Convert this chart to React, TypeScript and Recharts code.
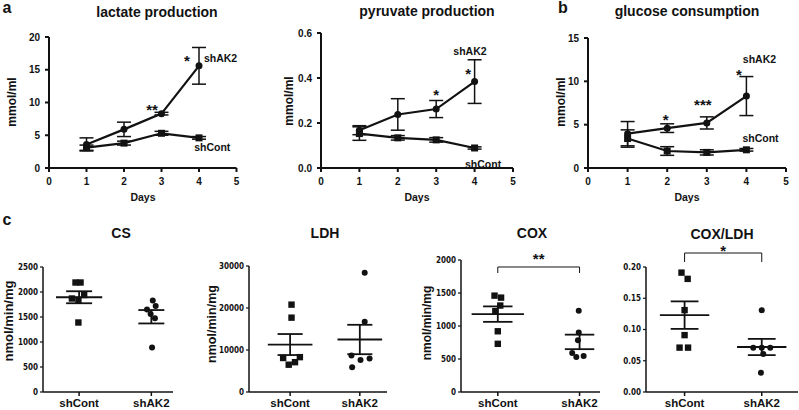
import React from 'react';
import {
  LineChart,
  Line,
  XAxis,
  YAxis,
  ErrorBar,
  ReferenceDot,
  ReferenceLine,
  ScatterChart,
  Scatter,
} from 'recharts';

const INK = '#121212';
const FONT = "'Liberation Sans', Arial, sans-serif";
const NARROW = "'Liberation Sans Narrow', 'DejaVu Sans Condensed', 'Liberation Sans', sans-serif";

// ---- panel a / b: time courses ----
const days = [1, 2, 3, 4];
const dayTicks = [0, 1, 2, 3, 4, 5];

const lactateAK2 = [3.6, 5.9, 8.3, 15.6];
const lactateAK2Err = [1.0, 1.1, 0.2, 2.8];
const lactateCont = [3.1, 3.8, 5.3, 4.6];
const lactateContErr = [0.4, 0.3, 0.3, 0.2];
const lactateTicks = [0, 5, 10, 15, 20];

const pyruvateAK2 = [0.168, 0.238, 0.262, 0.384];
const pyruvateAK2Err = [0.02, 0.07, 0.038, 0.097];
const pyruvateCont = [0.153, 0.134, 0.125, 0.089];
const pyruvateContErr = [0.03, 0.01, 0.01, 0.005];
const pyruvateTicks = [0, 0.2, 0.4, 0.6];

const glucoseAK2 = [3.96, 4.6, 5.2, 8.3];
const glucoseAK2Err = [1.4, 0.5, 0.7, 2.25];
const glucoseCont = [3.4, 1.96, 1.8, 2.1];
const glucoseContErr = [1.0, 0.5, 0.3, 0.15];
const glucoseTicks = [0, 5, 10, 15];

type Note = { x: number; y: number; text: string; anchor?: 'start' | 'middle' };

const lactateNotes: Note[] = [
  { x: 2.75, y: 9.5, text: '**' },
  { x: 3.68, y: 17.0, text: '*' },
  { x: 4.13, y: 16.7, text: 'shAK2', anchor: 'start' },
  { x: 3.87, y: 3.2, text: 'shCont', anchor: 'start' },
];
const pyruvateNotes: Note[] = [
  { x: 3.0, y: 0.344, text: '*' },
  { x: 3.83, y: 0.436, text: '*' },
  { x: 3.88, y: 0.517, text: 'shAK2' },
  { x: 3.75, y: 0.018, text: 'shCont', anchor: 'start' },
];
const glucoseNotes: Note[] = [
  { x: 1.96, y: 6.0, text: '*' },
  { x: 2.9, y: 7.7, text: '***' },
  { x: 3.81, y: 11.2, text: '*' },
  { x: 3.91, y: 12.5, text: 'shAK2', anchor: 'start' },
  { x: 3.9, y: 3.45, text: 'shCont', anchor: 'start' },
];

// ---- panel c: enzyme activities ----
const groups = ['shCont', 'shAK2'];

const csCont = [2190, 2190, 1870, 1840, 1940, 1390];
const csContJitter = [-0.05, 0.02, -0.1, -0.01, 0.07, -0.01];
const csAK2 = [1830, 1720, 1650, 1560, 1475, 890];
const csAK2Jitter = [0.02, 0.06, -0.06, -0.01, 0.05, 0.01];
const csMean = [1895, 1505];
const csSem = [120, 134];
const csTicks = [0, 500, 1000, 1500, 2000, 2500];

const ldhCont = [20800, 17700, 8100, 7100, 6500, 8300];
const ldhContJitter = [0.02, 0.02, -0.1, 0.07, -0.02, 0.14];
const ldhAK2 = [28400, 16700, 8700, 7600, 8000, 5900];
const ldhAK2Jitter = [0.07, 0.07, -0.12, 0.01, 0.14, -0.11];
const ldhMean = [11300, 12500];
const ldhSem = [2500, 3500];
const ldhTicks = [0, 10000, 20000, 30000];

const coxCont = [1460, 1430, 1310, 1225, 920, 730];
const coxContJitter = [-0.04, 0.04, 0.03, -0.03, 0, 0];
const coxAK2 = [1230, 900, 785, 590, 530, 545];
const coxAK2Jitter = [-0.01, -0.01, -0.02, -0.09, -0.04, 0.05];
const coxMean = [1180, 759];
const coxSem = [117, 110];
const coxTicks = [0, 500, 1000, 1500, 2000];

const ratioCont = [0.191, 0.181, 0.131, 0.091, 0.071, 0.071];
const ratioContJitter = [-0.04, 0.04, 0, 0, -0.065, 0.045];
const ratioAK2 = [0.131, 0.071, 0.071, 0.071, 0.061, 0.031];
const ratioAK2Jitter = [0, -0.11, 0, 0.11, 0.02, -0.01];
const ratioMean = [0.123, 0.072];
const ratioSem = [0.022, 0.013];
const ratioTicks = [0, 0.05, 0.1, 0.15, 0.2];

type Rect = { x1: number; y1: number; x2: number; y2: number };

function frame(plot: Rect, outer: Rect, axisH: number) {
  return {
    style: { position: 'absolute' as const, left: outer.x1, top: outer.y1 },
    width: outer.x2 - outer.x1,
    height: outer.y2 - outer.y1,
    margin: {
      top: plot.y1 - outer.y1,
      right: outer.x2 - plot.x2,
      bottom: outer.y2 - plot.y2 - axisH,
      left: 0,
    },
    yw: plot.x1 - outer.x1,
  };
}

const noteLabel = (n: Note) => (props: any) => {
  const vb = props.viewBox;
  const star = n.text.startsWith('*');
  return (
    <text
      x={vb.x + vb.width / 2}
      y={vb.y + vb.height / 2}
      dy={star ? '0.6em' : '0.35em'}
      textAnchor={n.anchor || 'middle'}
      fontSize={star ? 15 : 10.5}
      fontWeight="bold"
      fontFamily={FONT}
      fill={INK}
    >
      {n.text}
    </text>
  );
};

const squareDot = (size: number) => (p: any) => (
  <rect key={p.key} x={p.cx - size / 2} y={p.cy - size / 2} width={size} height={size} fill={INK} />
);
const roundDot = (r: number) => (p: any) => <circle key={p.key} cx={p.cx} cy={p.cy} r={r} fill={INK} />;

interface TimePanelProps {
  outer: Rect;
  plot: Rect;
  ak2: number[];
  ak2Err: number[];
  cont: number[];
  contErr: number[];
  ticks: number[];
  digits: number;
  notes: Note[];
}

function TimePanel({ outer, plot, ak2, ak2Err, cont, contErr, ticks, digits, notes }: TimePanelProps) {
  const f = frame(plot, outer, 30);
  const rows = days.map((d, i) => ({ day: d, ak2: ak2[i], ak2Err: ak2Err[i], cont: cont[i], contErr: contErr[i] }));
  const tickStyle = { fontSize: 10, fontWeight: 'bold', fill: INK, fontFamily: FONT };
  return (
    <div style={f.style}>
      <LineChart width={f.width} height={f.height} margin={f.margin} data={rows}>
        <XAxis
          dataKey="day"
          type="number"
          domain={[0, 5]}
          ticks={dayTicks}
          height={30}
          axisLine={{ stroke: INK, strokeWidth: 2 }}
          tickLine={{ stroke: INK, strokeWidth: 2 }}
          tickSize={4}
          tickMargin={6}
          tick={tickStyle}
        />
        <YAxis
          type="number"
          domain={[ticks[0], ticks[ticks.length - 1]]}
          ticks={ticks}
          width={f.yw}
          axisLine={{ stroke: INK, strokeWidth: 2 }}
          tickLine={{ stroke: INK, strokeWidth: 2 }}
          tickSize={4}
          tickMargin={5}
          tick={tickStyle}
          tickFormatter={(v: number) => v.toFixed(digits)}
        />
        <Line
          dataKey="cont"
          stroke={INK}
          strokeWidth={2.2}
          dot={squareDot(7)}
          activeDot={false}
          isAnimationActive={false}
        >
          <ErrorBar dataKey="contErr" width={7} stroke={INK} strokeWidth={1.5} isAnimationActive={false} />
        </Line>
        <Line
          dataKey="ak2"
          stroke={INK}
          strokeWidth={2.2}
          dot={roundDot(3.5)}
          activeDot={false}
          isAnimationActive={false}
        >
          <ErrorBar dataKey="ak2Err" width={7} stroke={INK} strokeWidth={1.5} isAnimationActive={false} />
        </Line>
        {notes.map((n, i) => (
          <ReferenceDot
            key={i}
            x={n.x}
            y={n.y}
            r={1}
            fill="none"
            stroke="none"
            ifOverflow="visible"
            label={noteLabel(n)}
          />
        ))}
      </LineChart>
    </div>
  );
}

interface Bracket {
  y: number;
  drop: number;
  textY: number;
  text: string;
}

interface DotPanelProps {
  outer: Rect;
  plot: Rect;
  domain: [number, number];
  ticks: number[];
  digits: number;
  cont: number[];
  contJitter: number[];
  ak2: number[];
  ak2Jitter: number[];
  mean: number[];
  sem: number[];
  bracket?: Bracket;
}

const MEAN_HALF = 0.32;
const SEM_HALF = 0.18;

function DotPanel(props: DotPanelProps) {
  const { outer, plot, domain, ticks, digits, cont, contJitter, ak2, ak2Jitter, mean, sem, bracket } = props;
  const f = frame(plot, outer, 18);
  const contPts = cont.map((y, i) => ({ x: 1 + contJitter[i], y }));
  const ak2Pts = ak2.map((y, i) => ({ x: 2 + ak2Jitter[i], y }));
  const line = { stroke: INK, strokeWidth: 1.8 };
  return (
    <div style={f.style}>
      <ScatterChart width={f.width} height={f.height} margin={f.margin}>
        <XAxis
          dataKey="x"
          type="number"
          domain={domain}
          ticks={[1, 2]}
          height={18}
          axisLine={{ stroke: INK, strokeWidth: 1.5 }}
          tickLine={{ stroke: INK, strokeWidth: 1.5 }}
          tickSize={4}
          tickMargin={3}
          tick={{ fontSize: 11.5, fontWeight: 'bold', fill: INK, fontFamily: FONT }}
          tickFormatter={(v: number) => groups[v - 1]}
        />
        <YAxis
          dataKey="y"
          type="number"
          domain={[ticks[0], ticks[ticks.length - 1]]}
          ticks={ticks}
          width={f.yw}
          axisLine={{ stroke: INK, strokeWidth: 1.5 }}
          tickLine={{ stroke: INK, strokeWidth: 1.2 }}
          tickSize={3}
          tickMargin={2}
          tick={{ fontSize: 8, fontWeight: 'bold', fill: INK, fontFamily: NARROW }}
          tickFormatter={(v: number) => v.toFixed(digits)}
        />
        <Scatter
          data={contPts}
          isAnimationActive={false}
          shape={(p: any) => <rect x={p.cx - 3.2} y={p.cy - 3.2} width={6.4} height={6.4} fill={INK} />}
        />
        <Scatter
          data={ak2Pts}
          isAnimationActive={false}
          shape={(p: any) => <circle cx={p.cx} cy={p.cy} r={3} fill={INK} />}
        />
        {mean.map((m, i) => {
          const c = i + 1;
          return (
            <React.Fragment key={i}>
              <ReferenceLine segment={[{ x: c - MEAN_HALF, y: m }, { x: c + MEAN_HALF, y: m }]} {...line} />
              <ReferenceLine segment={[{ x: c - SEM_HALF, y: m + sem[i] }, { x: c + SEM_HALF, y: m + sem[i] }]} {...line} />
              <ReferenceLine segment={[{ x: c - SEM_HALF, y: m - sem[i] }, { x: c + SEM_HALF, y: m - sem[i] }]} {...line} />
              <ReferenceLine segment={[{ x: c, y: m - sem[i] }, { x: c, y: m + sem[i] }]} {...line} />
            </React.Fragment>
          );
        })}
        {bracket && (
          <>
            <ReferenceLine
              segment={[{ x: 1, y: bracket.drop }, { x: 1, y: bracket.y }]}
              stroke={INK}
              strokeWidth={1}
              ifOverflow="visible"
            />
            <ReferenceLine
              segment={[{ x: 1, y: bracket.y }, { x: 2, y: bracket.y }]}
              stroke={INK}
              strokeWidth={1}
              ifOverflow="visible"
            />
            <ReferenceLine
              segment={[{ x: 2, y: bracket.y }, { x: 2, y: bracket.drop }]}
              stroke={INK}
              strokeWidth={1}
              ifOverflow="visible"
            />
            <ReferenceDot
              x={1.5}
              y={bracket.textY}
              r={1}
              fill="none"
              stroke="none"
              ifOverflow="visible"
              label={noteLabel({ x: 1.5, y: bracket.textY, text: bracket.text })}
            />
          </>
        )}
      </ScatterChart>
    </div>
  );
}

const Title = ({ x, y, children, size = 14 }: { x: number; y: number; children: React.ReactNode; size?: number }) => (
  <text x={x} y={y} textAnchor="middle" fontSize={size} fontWeight="bold" fontFamily={FONT} fill={INK}>
    {children}
  </text>
);

const VLabel = ({ x, y, children, size = 12 }: { x: number; y: number; children: React.ReactNode; size?: number }) => (
  <text
    x={x}
    y={y}
    transform={`rotate(-90, ${x}, ${y})`}
    textAnchor="middle"
    dominantBaseline="central"
    fontSize={size}
    fontWeight="bold"
    fontFamily={FONT}
    fill={INK}
  >
    {children}
  </text>
);

export default function App() {
  return (
    <div style={{ position: 'fixed', left: 0, top: 0, width: 799, height: 410, background: '#fff', overflow: 'hidden' }}>
      <TimePanel
        outer={{ x1: 0, y1: 0, x2: 262, y2: 210 }}
        plot={{ x1: 49, y1: 37, x2: 236.5, y2: 168 }}
        ak2={lactateAK2}
        ak2Err={lactateAK2Err}
        cont={lactateCont}
        contErr={lactateContErr}
        ticks={lactateTicks}
        digits={0}
        notes={lactateNotes}
      />
      <TimePanel
        outer={{ x1: 266, y1: 0, x2: 535, y2: 210 }}
        plot={{ x1: 321, y1: 33, x2: 513, y2: 168 }}
        ak2={pyruvateAK2}
        ak2Err={pyruvateAK2Err}
        cont={pyruvateCont}
        contErr={pyruvateContErr}
        ticks={pyruvateTicks}
        digits={1}
        notes={pyruvateNotes}
      />
      <TimePanel
        outer={{ x1: 536, y1: 0, x2: 799, y2: 210 }}
        plot={{ x1: 588, y1: 38, x2: 786, y2: 168 }}
        ak2={glucoseAK2}
        ak2Err={glucoseAK2Err}
        cont={glucoseCont}
        contErr={glucoseContErr}
        ticks={glucoseTicks}
        digits={0}
        notes={glucoseNotes}
      />
      <DotPanel
        outer={{ x1: 0, y1: 240, x2: 200, y2: 410 }}
        plot={{ x1: 43, y1: 267, x2: 173, y2: 392 }}
        domain={[0.5, 2.3]}
        ticks={csTicks}
        digits={0}
        cont={csCont}
        contJitter={csContJitter}
        ak2={csAK2}
        ak2Jitter={csAK2Jitter}
        mean={csMean}
        sem={csSem}
      />
      <DotPanel
        outer={{ x1: 200, y1: 240, x2: 410, y2: 410 }}
        plot={{ x1: 249, y1: 266, x2: 387, y2: 392 }}
        domain={[0.41, 2.39]}
        ticks={ldhTicks}
        digits={0}
        cont={ldhCont}
        contJitter={ldhContJitter}
        ak2={ldhAK2}
        ak2Jitter={ldhAK2Jitter}
        mean={ldhMean}
        sem={ldhSem}
      />
      <DotPanel
        outer={{ x1: 410, y1: 240, x2: 620, y2: 410 }}
        plot={{ x1: 461, y1: 260, x2: 600, y2: 392 }}
        domain={[0.55, 2.25]}
        ticks={coxTicks}
        digits={0}
        cont={coxCont}
        contJitter={coxContJitter}
        ak2={coxAK2}
        ak2Jitter={coxAK2Jitter}
        mean={coxMean}
        sem={coxSem}
        bracket={{ y: 1894, drop: 1803, textY: 2076, text: '**' }}
      />
      <DotPanel
        outer={{ x1: 620, y1: 240, x2: 799, y2: 410 }}
        plot={{ x1: 646, y1: 267, x2: 798, y2: 392 }}
        domain={[0.5, 2.47]}
        ticks={ratioTicks}
        digits={2}
        cont={ratioCont}
        contJitter={ratioContJitter}
        ak2={ratioAK2}
        ak2Jitter={ratioAK2Jitter}
        mean={ratioMean}
        sem={ratioSem}
        bracket={{ y: 0.2224, drop: 0.208, textY: 0.232, text: '*' }}
      />
      <svg width={799} height={410} style={{ position: 'absolute', left: 0, top: 0, pointerEvents: 'none' }}>
        <Title x={7} y={13} size={16}>a</Title>
        <Title x={563} y={13} size={16}>b</Title>
        <Title x={7} y={225} size={16}>c</Title>

        <Title x={157} y={17}>lactate production</Title>
        <Title x={427} y={16}>pyruvate production</Title>
        <Title x={687} y={16}>glucose consumption</Title>

        <Title x={143} y={201} size={10.5}>Days</Title>
        <Title x={417} y={201} size={10.5}>Days</Title>
        <Title x={687} y={201} size={10.5}>Days</Title>

        <VLabel x={12} y={102}>mmol/ml</VLabel>
        <VLabel x={289} y={101}>mmol/ml</VLabel>
        <VLabel x={561} y={102}>mmol/ml</VLabel>

        <Title x={121} y={238}>CS</Title>
        <Title x={325} y={238}>LDH</Title>
        <Title x={532} y={238}>COX</Title>
        <Title x={722} y={239}>COX/LDH</Title>

        <VLabel x={8} y={321} size={13}>nmol/min/mg</VLabel>
        <VLabel x={212} y={324} size={12.5}>nmol/min/mg</VLabel>
        <VLabel x={427} y={323} size={12}>nmol/min/mg</VLabel>
      </svg>
    </div>
  );
}
